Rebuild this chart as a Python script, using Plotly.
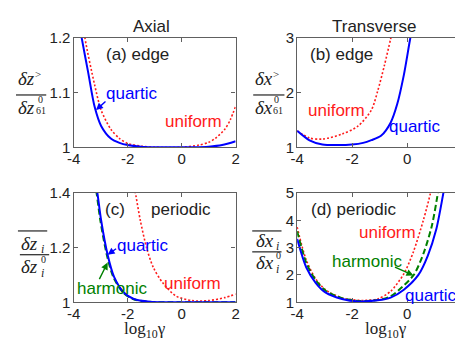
import plotly.graph_objects as go

# ---- data ----
# (a) axial, edge
a_quartic_x = [-3.8, -3.7, -3.46, -3.22, -2.98, -2.62, -2.3, -2.0, -1.5, -1.0, 0.0, 0.5, 1.0, 1.5, 2.0]
a_quartic_y = [1.23, 1.2, 1.137, 1.074, 1.039, 1.016, 1.008, 1.004, 1.001, 1.0, 1.0, 1.0, 1.001, 1.004, 1.011]
a_uniform_x = [-3.65, -3.58, -3.22, -2.98, -2.62, -2.3, -2.0, -1.5, -1.0, 0.0, 0.64, 1.0, 1.24, 1.6, 1.8, 2.0]
a_uniform_y = [1.23, 1.2, 1.114, 1.068, 1.033, 1.016, 1.007, 1.002, 1.0, 1.0, 1.004, 1.009, 1.016, 1.033, 1.05, 1.075]

# (b) transverse, edge
b_quartic_x = [-4.0, -3.55, -3.08, -2.5, -2.01, -1.6, -1.3, -0.95, -0.6, -0.36, -0.12, 0.11, 0.2]
b_quartic_y = [1.30, 1.127, 1.05, 1.04, 1.05, 1.08, 1.13, 1.21, 1.45, 1.79, 2.32, 2.98, 3.2]
b_uniform_x = [-4.0, -3.55, -3.08, -2.37, -1.78, -1.30, -1.07, -0.83, -0.6, -0.5]
b_uniform_y = [1.30, 1.17, 1.15, 1.24, 1.39, 1.68, 2.03, 2.49, 2.98, 3.2]

# (c) axial, periodic
c_quartic_x = [-3.2, -3.12, -2.98, -2.74, -2.5, -2.13, -1.77, -1.18, -0.5, 0.0, 1.0, 2.0]
c_quartic_y = [1.44, 1.4, 1.30, 1.174, 1.093, 1.035, 1.012, 1.002, 1.0, 1.0, 1.0, 1.0]
c_harmonic_x = [-3.23, -3.15, -3.01, -2.77, -2.53, -2.16, -1.8, -1.2, -0.5, 0.0, 1.0, 2.0]
c_harmonic_y = [1.44, 1.4, 1.30, 1.174, 1.093, 1.035, 1.012, 1.002, 1.0, 1.0, 1.0, 1.0]
c_uniform_x = [-1.75, -1.71, -1.53, -1.29, -1.05, -0.69, -0.21, 0.39, 0.99, 1.6, 2.0]
c_uniform_y = [1.42, 1.4, 1.30, 1.197, 1.128, 1.07, 1.023, 1.006, 1.006, 1.017, 1.03]

# (d) transverse, periodic
d_quartic_x = [-4.0, -3.67, -3.32, -2.96, -2.37, -1.78, -1.07, -0.6, -0.12, 0.41, 0.75, 1.06, 1.32, 1.4]
d_quartic_y = [3.32, 2.28, 1.70, 1.35, 1.12, 1.03, 1.07, 1.17, 1.46, 2.0, 2.7, 3.67, 5.0, 5.4]
d_harmonic_x = [-4.0, -3.67, -3.32, -2.96, -2.37, -1.78, -1.07, -0.6, -0.3, 0.24, 0.6, 0.9, 1.12, 1.2]
d_harmonic_y = [3.6, 2.45, 1.8, 1.42, 1.15, 1.05, 1.08, 1.22, 1.45, 2.0, 2.8, 3.8, 5.0, 5.5]
d_uniform_x = [-4.0, -3.67, -3.32, -2.96, -2.37, -1.78, -1.5, -1.07, -0.6, -0.12, 0.23, 0.59, 0.85, 0.92]
d_uniform_y = [3.75, 2.55, 1.85, 1.45, 1.16, 1.07, 1.07, 1.12, 1.4, 2.04, 2.85, 4.0, 5.0, 5.4]

x_ticks = [-4, -2, 0, 2]
x_ticktext = ["-4", "-2", "0", "2"]
y_ticks_a = [1, 1.1, 1.2]
y_ticks_b = [1, 2, 3]
y_ticks_c = [1, 1.2, 1.4]
y_ticks_d = [1, 2, 3, 4, 5]

BLUE = "#0000ff"
RED = "#ff1a1a"
GREEN = "#008000"
FRAME = "#606060"
TXT = "#222222"
W, H = 463, 346


def px(x):
    return x / W


def py(y):
    return 1 - y / H


fig = go.Figure()


def curve(x, y, color, dash, xa, ya, width=2):
    fig.add_trace(go.Scatter(x=x, y=y, mode="lines", xaxis=xa, yaxis=ya,
                             line=dict(color=color, width=width, dash=dash,
                                       shape="spline", smoothing=0.8),
                             hoverinfo="skip"))


DOT = "2px,2px"
DASH = "6px,3px"
curve(a_uniform_x, a_uniform_y, RED, DOT, "x", "y", 1.6)
curve(a_quartic_x, a_quartic_y, BLUE, "solid", "x", "y")
curve(b_uniform_x, b_uniform_y, RED, DOT, "x2", "y2", 1.6)
curve(b_quartic_x, b_quartic_y, BLUE, "solid", "x2", "y2")
curve(c_uniform_x, c_uniform_y, RED, DOT, "x3", "y3", 1.6)
curve(c_harmonic_x, c_harmonic_y, GREEN, DASH, "x3", "y3")
curve(c_quartic_x, c_quartic_y, BLUE, "solid", "x3", "y3")
curve(d_uniform_x, d_uniform_y, RED, DOT, "x4", "y4", 1.6)
curve(d_harmonic_x, d_harmonic_y, GREEN, DASH, "x4", "y4")
curve(d_quartic_x, d_quartic_y, BLUE, "solid", "x4", "y4")

xdom_l = [60 / W, 226 / W]
xdom_r = [289 / W, 458 / W]
ydom_t = [py(137), py(22)]
ydom_b = [py(300), py(185)]

tickfont = dict(family="Liberation Sans, Arial", size=15, color=TXT)


def xax(dom, anchor):
    return dict(domain=dom, anchor=anchor, range=[-4, 2], tickvals=x_ticks,
                ticktext=x_ticktext, showline=True, linecolor=FRAME, linewidth=1.3,
                mirror="ticks", ticks="inside", ticklen=4, tickcolor=FRAME,
                showgrid=False, zeroline=False, tickfont=tickfont, fixedrange=True,
                ticklabelstandoff=-2)


def yax(dom, anchor, rng, vals):
    return dict(domain=dom, anchor=anchor, range=rng, tickvals=vals,
                showline=True, linecolor=FRAME, linewidth=1.3,
                mirror="ticks", ticks="inside", ticklen=4, tickcolor=FRAME,
                showgrid=False, zeroline=False, tickfont=tickfont, fixedrange=True,
                ticklabelstandoff=-1)


fig.update_layout(
    width=W, height=H, margin=dict(l=0, r=0, t=0, b=0),
    paper_bgcolor="white", plot_bgcolor="white", showlegend=False,
    xaxis=xax(xdom_l, "y"), yaxis=yax(ydom_t, "x", [1, 1.2], y_ticks_a),
    xaxis2=xax(xdom_r, "y2"), yaxis2=yax(ydom_t, "x2", [1, 3], y_ticks_b),
    xaxis3=xax(xdom_l, "y3"), yaxis3=yax(ydom_b, "x3", [1, 1.4], y_ticks_c),
    xaxis4=xax(xdom_r, "y4"), yaxis4=yax(ydom_b, "x4", [1, 5], y_ticks_d),
)

LBL = "Liberation Sans, Arial"
SERIF = "Liberation Serif, Times New Roman"
ann = []


def label(text, x, y, color, xr, yr, size=17):
    ann.append(dict(text=text, x=x, y=y, xref=xr, yref=yr, showarrow=False,
                    font=dict(family=LBL, size=size, color=color),
                    xanchor="center", yanchor="middle"))


def arrow(x, y, ax, ay, color, xr, yr):
    ann.append(dict(text="", x=x, y=y, xref=xr, yref=yr, ax=ax, ay=ay,
                    showarrow=True, arrowhead=2, arrowsize=1, arrowwidth=1.4,
                    arrowcolor=color, standoff=0))


def ptext(text, x, y, size, family=SERIF, italic=True):
    t = "<i>%s</i>" % text if italic else text
    ann.append(dict(text=t, x=px(x), y=py(y), xref="paper", yref="paper",
                    showarrow=False, font=dict(family=family, size=size, color=TXT),
                    xanchor="center", yanchor="middle"))


# titles
ptext("Axial", 140, 10, 17, family=LBL, italic=False)
ptext("Transverse", 368, 10, 17, family=LBL, italic=False)

# (a)
label("(a) edge", -1.65, 1.17, TXT, "x", "y")
label("quartic", -1.83, 1.099, BLUE, "x", "y")
arrow(-3.17, 1.068, 11, -10, BLUE, "x", "y")
label("uniform", 0.44, 1.047, RED, "x", "y")
# (b)
label("(b) edge", -2.37, 2.70, TXT, "x2", "y2")
label("uniform", -2.58, 1.68, RED, "x2", "y2")
label("quartic", 0.29, 1.38, BLUE, "x2", "y2")
# (c)
label("(c)", -2.45, 1.34, TXT, "x3", "y3")
label("periodic", -0.03, 1.34, TXT, "x3", "y3")
label("quartic", -1.44, 1.209, BLUE, "x3", "y3")
arrow(-2.74, 1.174, 10, -7, BLUE, "x3", "y3")
label("harmonic", -2.56, 1.052, GREEN, "x3", "y3")
arrow(-2.74, 1.145, -9, 18, GREEN, "x3", "y3")
label("uniform", 0.40, 1.07, RED, "x3", "y3")
# (d)
label("(d) periodic", -1.94, 4.41, TXT, "x4", "y4")
label("uniform", -0.70, 3.54, RED, "x4", "y4")
label("harmonic", -1.45, 2.50, GREEN, "x4", "y4")
arrow(0.23, 1.98, -20, -9, GREEN, "x4", "y4")
label("quartic", 0.86, 1.24, BLUE, "x4", "y4")

# x-axis titles
for cx in (133, 380):
    ann.append(dict(text="log<sub>10</sub>γ", x=px(cx), y=py(329), xref="paper", yref="paper",
                    showarrow=False, font=dict(family=SERIF, size=17, color=TXT),
                    xanchor="center", yanchor="middle"))

# y-axis fraction labels
# (a)
ptext("δz", 12, 65, 19)
ptext(">", 24, 60, 11, italic=False)
ptext("δz", 12, 95, 19)
ptext("0", 26, 87, 10, italic=False)
ptext("61", 27, 98, 10, italic=False)
# (b)
ptext("δx", 255, 65, 19)
ptext(">", 267, 60, 11, italic=False)
ptext("δx", 255, 95, 19)
ptext("0", 268, 87, 10, italic=False)
ptext("61", 269, 98, 10, italic=False)
# (c)
ptext("δz", 15, 238, 19)
ptext("i", 28, 244, 12)
ptext("δz", 15, 262, 19)
ptext("0", 29, 255, 10, italic=False)
ptext("i", 28, 269, 12)
# (d)
ptext("δx", 256, 235, 19)
ptext("i", 269, 241, 12)
ptext("δx", 256, 258, 19)
ptext("0", 270, 251, 10, italic=False)
ptext("i", 269, 265, 12)

fig.update_layout(annotations=ann)

bars = [(1, 32, 82), (244, 276, 82), (5, 35, 250), (243, 273, 247),
        (3, 33, 225), (243, 273, 225)]
fig.update_layout(shapes=[dict(type="line", xref="paper", yref="paper",
                                x0=px(a), x1=px(b), y0=py(y), y1=py(y),
                                line=dict(color=TXT, width=1.2)) for a, b, y in bars])

fig.write_html("out.html")
